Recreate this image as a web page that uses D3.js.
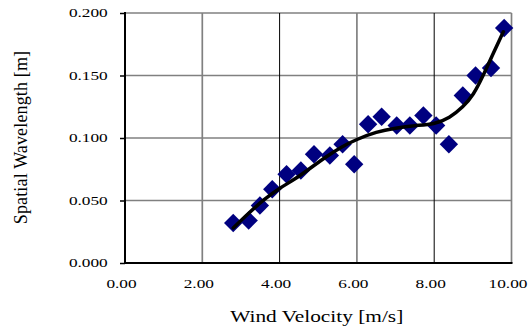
<!DOCTYPE html>
<html>
<head>
<meta charset="utf-8">
<script src="https://cdn.jsdelivr.net/npm/d3@7"></script>
<style>
  html, body { margin: 0; padding: 0; background: #fff; }
  svg { display: block; }
</style>
</head>
<body>
<svg id="chart" width="532" height="327"></svg>
<script>
// ---- data ----
const windVelocity = [2.80, 3.20, 3.49, 3.81, 4.18, 4.55, 4.89, 5.30, 5.63, 5.93, 6.29, 6.64, 7.03, 7.37, 7.72, 8.05, 8.38, 8.74, 9.07, 9.47, 9.81];
const wavelength   = [0.032, 0.034, 0.046, 0.059, 0.071, 0.074, 0.087, 0.086, 0.095, 0.079, 0.111, 0.117, 0.110, 0.110, 0.118, 0.110, 0.095, 0.134, 0.150, 0.156, 0.188];
const trendX = [2.80, 3.20, 3.60, 4.00, 4.40, 4.80, 5.20, 5.60, 6.00, 6.50, 7.00, 7.50, 8.00, 8.40, 8.75, 9.01, 9.27, 9.53, 9.79];
const trendY = [0.028, 0.040, 0.051, 0.060, 0.067, 0.076, 0.085, 0.093, 0.099, 0.105, 0.108, 0.110, 0.111, 0.116, 0.125, 0.134, 0.150, 0.168, 0.185];
const xTicks = [0, 2, 4, 6, 8, 10];
const yTicks = [0, 0.05, 0.10, 0.15, 0.20];
const xTickLabels = ["0.00", "2.00", "4.00", "6.00", "8.00", "10.00"];
const yTickLabels = ["0.000", "0.050", "0.100", "0.150", "0.200"];
const xTitle = "Wind Velocity [m/s]";
const yTitle = "Spatial Wavelength [m]";

const FONT = "'Liberation Serif', Tinos, 'Times New Roman', 'DejaVu Serif', serif";

// ---- layout ----
const svg = d3.select("#chart");
const L = 125, R = 511.5, T = 13, B = 263;
const x = d3.scaleLinear().domain([0, 10]).range([L, R]);
const y = d3.scaleLinear().domain([0, 0.2]).range([B, T]);

// gridlines
const g = svg.append("g");
g.selectAll("line.hg").data(yTicks.filter(d => d > 0)).enter().append("line")
  .attr("x1", L).attr("x2", R).attr("y1", d => y(d)).attr("y2", d => y(d))
  .attr("stroke", "#808080").attr("stroke-width", 1.7);
g.selectAll("line.vg").data(xTicks.filter(d => d > 0)).enter().append("line")
  .attr("y1", T).attr("y2", B).attr("x1", d => x(d)).attr("x2", d => x(d))
  .attr("stroke", d => (d === 4 || d === 8) ? "#000" : "#808080")
  .attr("stroke-width", d => (d === 4 || d === 8) ? 1 : 1.7);

// axes
const yAxis = d3.axisLeft(y).tickValues(yTicks).tickSize(5).tickFormat("");
const xAxis = d3.axisBottom(x).tickValues(xTicks).tickSize(0).tickFormat("");
const ya = svg.append("g").attr("transform", `translate(${L},0)`).call(yAxis);
ya.select(".domain").remove();
ya.selectAll(".tick line").attr("stroke", "#000").attr("stroke-width", 1.5);
svg.append("line").attr("x1", L).attr("x2", L).attr("y1", T - 1).attr("y2", B + 1)
  .attr("stroke", "#000").attr("stroke-width", 2);
const xa = svg.append("g").attr("transform", `translate(0,${B})`).call(xAxis);
xa.select(".domain").remove();
svg.append("line").attr("x1", L - 1).attr("x2", R + 1).attr("y1", B).attr("y2", B)
  .attr("stroke", "#000").attr("stroke-width", 2);

// tick labels (stretched horizontally like the original)
svg.append("g").selectAll("text").data(yTicks).enter().append("text")
  .attr("transform", d => `translate(107.7,${y(d) + 4.3}) scale(1.38,1)`)
  .attr("text-anchor", "end").attr("font-family", FONT).attr("font-size", 12.5).attr("fill", "#000")
  .text((d, i) => yTickLabels[i]);
svg.append("g").selectAll("text").data(xTicks).enter().append("text")
  .attr("transform", d => `translate(${x(d) - 3.5},288) scale(1.38,1)`)
  .attr("text-anchor", "middle").attr("font-family", FONT).attr("font-size", 12.5).attr("fill", "#000")
  .text((d, i) => xTickLabels[i]);

// axis titles
svg.append("text")
  .attr("transform", `translate(${(L + R) / 2 - 1.5},321.7) scale(1.22,1)`)
  .attr("text-anchor", "middle").attr("font-family", FONT).attr("font-size", 17.5).attr("fill", "#000")
  .text(xTitle);
svg.append("text")
  .attr("transform", `translate(27,137.5) rotate(-90)`)
  .attr("text-anchor", "middle").attr("font-family", FONT).attr("font-size", 18).attr("fill", "#000")
  .attr("letter-spacing", 0.15).text(yTitle);

// markers
const pts = windVelocity.map((v, i) => [v, wavelength[i]]);
svg.append("g").selectAll("path").data(pts).enter().append("path")
  .attr("d", d3.symbol().type(d3.symbolSquare).size(169))
  .attr("transform", d => `translate(${x(d[0])},${y(d[1])}) rotate(45)`)
  .attr("fill", "#000080");

// trend line
const tr = trendX.map((v, i) => [v, trendY[i]]);
svg.append("path").datum(tr)
  .attr("d", d3.line().x(d => x(d[0])).y(d => y(d[1])).curve(d3.curveBasis))
  .attr("fill", "none").attr("stroke", "#000").attr("stroke-width", 3.5)
  .attr("stroke-linejoin", "round").attr("stroke-linecap", "round");
</script>
</body>
</html>
